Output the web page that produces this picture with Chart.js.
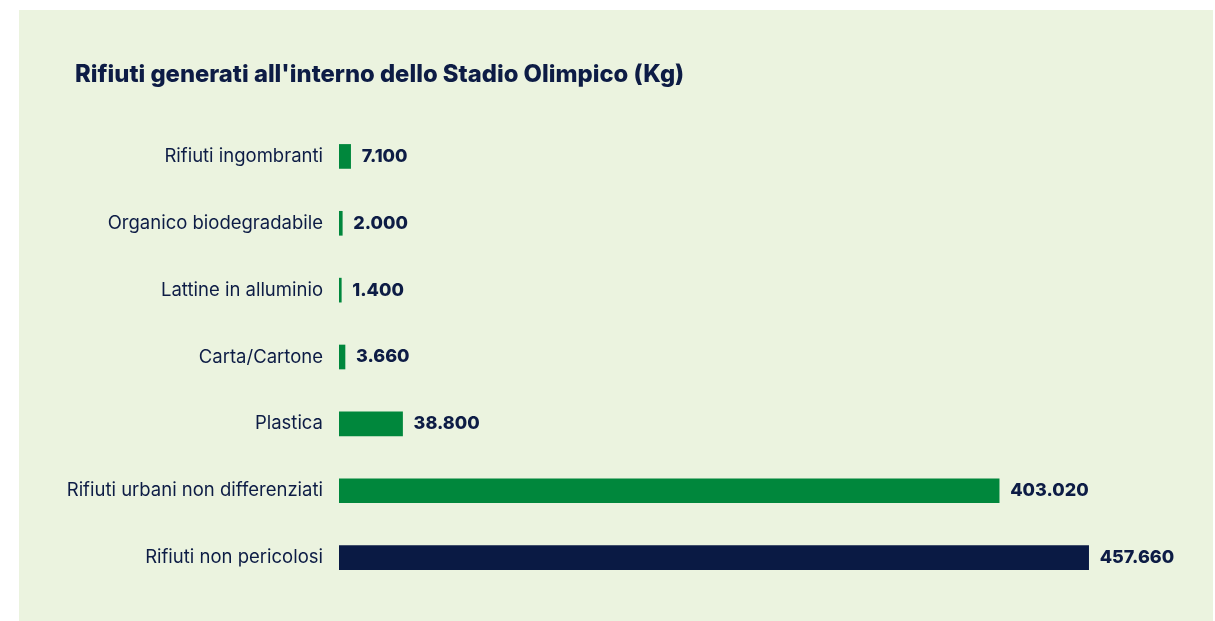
<!DOCTYPE html>
<html>
<head>
<meta charset="utf-8">
<script src="https://cdn.jsdelivr.net/npm/chart.js@4"></script>
<style>
  html, body { margin: 0; padding: 0; background: #ffffff; }
  #panel {
    position: absolute;
    left: 19px; top: 10px;
    width: 1194px; height: 611px;
    background: #ebf3df;
  }
  #panel canvas { display: block; }
</style>
</head>
<body>
<div id="panel"><canvas id="chart" width="1194" height="611"></canvas></div>
<script>
// categorie e valori (Kg)
const categorie = [
  "Rifiuti ingombranti",
  "Organico biodegradabile",
  "Lattine in alluminio",
  "Carta/Cartone",
  "Plastica",
  "Rifiuti urbani non differenziati",
  "Rifiuti non pericolosi"
];
const valori = [7100, 2000, 1400, 3660, 38800, 403020, 457660];
const coloriBarre = ["#00873c", "#00873c", "#00873c", "#00873c", "#00873c", "#00873c", "#0a1a44"];

const titolo = "Rifiuti generati all'interno dello Stadio Olimpico (Kg)";
const navy = "#0d1c45";

function formatta(n) {
  return String(n).replace(/\B(?=(\d{3})+(?!\d))/g, ".");
}

// titolo e etichette dei valori
const testi = {
  id: "testi",
  afterDatasetsDraw(chart) {
    const ctx = chart.ctx;
    const meta = chart.getDatasetMeta(0);
    ctx.save();
    ctx.fillStyle = navy;
    ctx.textAlign = "left";
    ctx.textBaseline = "middle";

    ctx.font = "800 23.8px Inter";
    ctx.fillText(titolo, 56, 65);

    ctx.font = "800 18px Inter";
    meta.data.forEach((bar, i) => {
      ctx.fillText(formatta(valori[i]), bar.x + 11, bar.y);
    });
    ctx.restore();
  }
};

new Chart(document.getElementById("chart"), {
  type: "bar",
  data: {
    labels: categorie,
    datasets: [{
      data: valori,
      backgroundColor: coloriBarre,
      barThickness: 24,
      borderWidth: 0
    }]
  },
  options: {
    indexAxis: "y",
    responsive: false,
    animation: false,
    layout: { padding: { left: 0, right: 55, top: 113, bottom: 30 } },
    plugins: {
      legend: { display: false },
      tooltip: { enabled: false },
      title: { display: false }
    },
    scales: {
      x: {
        display: false,
        min: 0,
        max: 500000
      },
      y: {
        grid: { display: false, drawTicks: false },
        border: { display: false },
        ticks: {
          color: navy,
          padding: 16,
          font: { family: "Inter", size: 18.5 }
        },
        afterFit(scale) { scale.width = 320; }
      }
    }
  },
  plugins: [testi]
});
</script>
</body>
</html>
